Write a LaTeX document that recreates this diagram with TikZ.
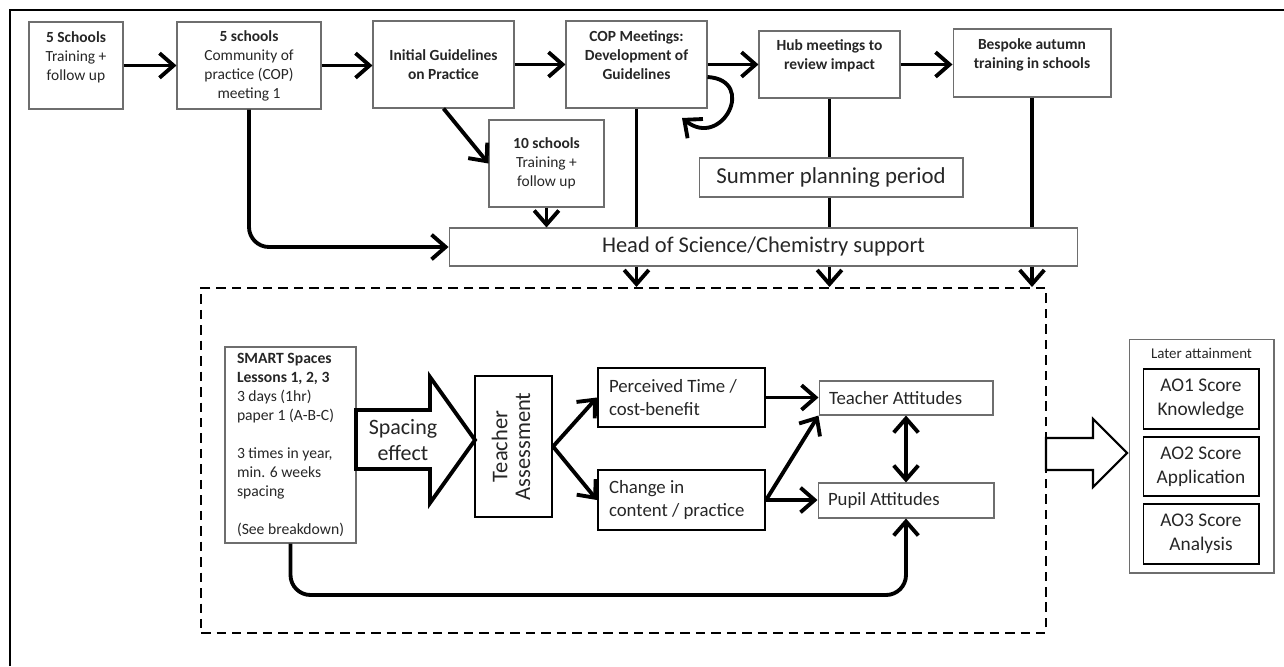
\documentclass[tikz,border=0pt]{standalone}
\usepackage{fontspec}
\setmainfont{Carlito}
\usepackage{graphicx}
\usetikzlibrary{arrows.meta,positioning}
\definecolor{ink}{HTML}{262626}
\definecolor{boxgray}{HTML}{6E6E6E}

\begin{document}
\begin{tikzpicture}[x=0.02cm, y=-0.02cm,
    dims/.style n args={2}{minimum width=#1cm, minimum height=#2cm},
    box/.style={draw=boxgray, line width=0.6pt, inner sep=0pt, text=ink, align=center},
    heavybox/.style={draw=black, line width=1.2pt, inner sep=0pt, text=ink, align=flush left},
    aobox/.style={draw=black, line width=0.6pt, inner sep=0pt, text=ink, align=center,
            font=\fontsize{11}{13.6}\selectfont},
    arr/.style={line width=2.2pt, -{Straight Barb[length=8pt,width=14pt]}},
    link/.style={line width=2.2pt},
    tiny/.style={font=\fontsize{8.8}{10.8}\selectfont},
    tinyb/.style={font=\fontsize{8.8}{10.8}\selectfont\bfseries},
    mid/.style={font=\fontsize{10.7}{13}\selectfont},
    big/.style={font=\fontsize{12.8}{15}\selectfont}]

    \useasboundingbox (0,0) rectangle (1284,666);

    % frame (only top and left edge in view)
    \draw[line width=0.8pt] (10,666) -- (10,10) -- (1284,10);

    % top row
    \node [box, tiny, dims={1.88}{1.74}] (fiveA) at (76,65.5) {\textbf{5 Schools}\\Training +\\follow up\\ \mbox{}};
    \node [box, tiny, dims={2.88}{1.74}] (copA) at (249,65.5) {\textbf{5 schools}\\Community of\\practice (COP)\\meeting 1};
    \node [box, tinyb, dims={2.82}{1.74}] (init) at (443.5,64.5) {Initial Guidelines\\on Practice};
    \node [box, tinyb, dims={2.82}{1.74}] (cop4) at (636.5,64.5) {COP Meetings:\\Development of\\Guidelines\\ \mbox{}};
    \node [box, tinyb, dims={2.82}{1.34}] (hub) at (829.5,64.5) {Hub meetings to\\review impact\\ \mbox{}};
    \node [box, tinyb, dims={3.16}{1.36}] (bespoke) at (1032,63) {Bespoke autumn\\training in schools\\ \mbox{}};

    \node [box, tiny, dims={2.3}{1.74}] (tensch) at (546.5,163.5) {\textbf{10 schools}\\Training +\\follow up};
    \node [box, font=\fontsize{13}{15.5}\selectfont, dims={5.28}{0.78}] (summer) at (831,177.5) {Summer planning period};
    \node [box, big, dims={12.58}{0.76}] (head) at (763.5,247) {Head of Science/Chemistry support};

    \draw[arr] (fiveA.east) -- (fiveA.east -| copA.west);
    \draw[arr] (copA.east) -- (copA.east -| init.west);
    \draw[arr] (init.east) -- (init.east -| cop4.west);
    \draw[arr] (cop4.east |- hub.east) -- (hub.west);
    \draw[arr] (hub.east) -- (hub.east -| bespoke.west);

    \coordinate (loopend) at (682,118);
    \draw[arr] ([yshift=-0.25cm]cop4.east) .. controls +(50,3) and +(40,32) .. (loopend);

    \draw[arr] (init.south) -- (tensch.west);
    \draw[arr] (tensch.south) -- (tensch.south |- head.north);
    \draw[arr, rounded corners=0.4cm] (copA.south) -- (copA.south |- head.west) -- (head.west);
    \draw[link] (cop4.south) -- (cop4.south |- head.north);
    \draw[link] (hub.south) -- (hub.south |- summer.north);
    \draw[link] (hub.south |- summer.south) -- (hub.south |- head.north);
    \draw[link] (bespoke.south) -- (bespoke.south |- head.north);

    % study block
    \node [draw, line width=1.2pt, dash pattern=on 5.4pt off 3.4pt, inner sep=0pt, dims={16.9}{6.9}] (study) at (623.5,460.5) {};

    \foreach \n in {cop4, hub, bespoke} {
            \draw[arr] (\n.south |- head.south) -- (\n.south |- study.north);
        }

    \node [box, align=left, font=\fontsize{8.9}{10.8}\selectfont, dims={2.62}{3.92}] (smart) at (290.5,445) {\textbf{SMART Spaces}\\\textbf{Lessons 1, 2, 3}\\3 days (1hr)\\paper 1 (A-B-C)\\ \mbox{}\\3 times in year,\\min. 6 weeks\\spacing\\ \mbox{}\\(See breakdown)};

    \draw[line width=2.2pt, fill=white] (356,410) -- (430,410) -- (430,377) -- (475,440)
        -- (430,503) -- (430,469) -- (356,469) -- cycle;
    \node [text=ink, align=center, font=\fontsize{12.5}{14.8}\selectfont] (spacing) at (403,440) {Spacing\\effect};

    \node [heavybox, big, dims={1.54}{2.82}] (ta) at (513.5,446.5) {\rotatebox{90}{\begin{tabular}{@{}c@{}}Teacher\\[-2pt]Assessment\end{tabular}}};

    \node [heavybox, mid, text width=2.9cm, dims={3.34}{1.18}] (perc) at (681.5,397.5) {Perceived Time /\\cost-benefit};
    \node [heavybox, mid, text width=2.9cm, dims={3.34}{1.2}] (change) at (681.5,500) {Change in\\content / practice};
    \node [box, mid, align=flush left, text width=3.08cm, dims={3.48}{0.68}] (tatt) at (906,398) {Teacher Attitudes};
    \node [box, mid, align=flush left, text width=3.12cm, dims={3.52}{0.7}] (patt) at (906,500.5) {Pupil Attitudes};

    \draw[arr] (ta.east) -- (perc.west);
    \draw[arr] (ta.east) -- (change.west);
    \draw[arr] (perc.east) -- (perc.east -| tatt.west);
    \draw[arr] (change.east) -- (change.east -| patt.west);
    \draw[arr] (change.east) -- (tatt.south west);
    \draw[line width=2.2pt, {Straight Barb[length=8pt,width=14pt]}-{Straight Barb[length=8pt,width=14pt]}] (tatt.south) -- (patt.north);

    \coordinate (loopy) at (0,595);
    \draw[arr, rounded corners=0.4cm] (smart.south) -- (smart.south |- loopy) -- (patt.south |- loopy) -- (patt.south);

    % outcome
    \draw[line width=1.2pt, fill=white] (1046,438) -- (1093,438) -- (1093,419) -- (1127,453)
        -- (1093,487) -- (1093,470) -- (1046,470) -- cycle;

    \node [box, dims={2.9}{4.68}] (later) at (1201.5,456) {};
    \node [text=ink, font=\fontsize{8.5}{10}\selectfont] (latertitle) at (1201.5,353) {Later attainment};
    \node [aobox, dims={2.32}{1.2}] (aoa) at (1201,399) {AO1 Score\\Knowledge};
    \node [aobox, dims={2.32}{1.18}] (aob) at (1201,466.5) {AO2 Score\\Application};
    \node [aobox, dims={2.32}{1.2}] (aoc) at (1201,534) {AO3 Score\\Analysis};

\end{tikzpicture}
\end{document}
